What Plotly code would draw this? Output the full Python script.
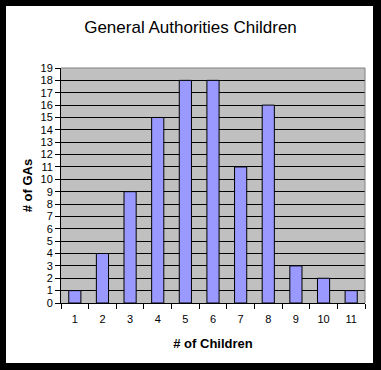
import plotly.graph_objects as go

categories = ["1", "2", "3", "4", "5", "6", "7", "8", "9", "10", "11"]
num_gas = [1, 4, 9, 15, 18, 18, 11, 16, 3, 2, 1]
y_ticks = list(range(0, 20))

W, H = 381, 370
L, R, T, B = 61, 365, 68, 303  # plot area in px


def px_x(p):
    return (p - L) / (R - L)


def px_y(p):
    return (B - p) / (B - T)


fig = go.Figure(
    go.Bar(
        x=categories,
        y=num_gas,
        marker=dict(color="#9999FF", line=dict(color="#000000", width=1)),
        width=0.44,
        hoverinfo="skip",
    )
)

font = "Liberation Sans, Arial, sans-serif"

shapes = []
# gray border on top and right of plot area
shapes.append(dict(type="line", xref="paper", yref="paper", x0=0, x1=1, y0=1, y1=1,
                   line=dict(color="#808080", width=1), layer="above"))
shapes.append(dict(type="line", xref="paper", yref="paper", x0=1, x1=1, y0=0, y1=1,
                   line=dict(color="#808080", width=1), layer="above"))
# black outer frame strips
for (a, b, c, d) in [(0, 6, 0, H), (373, W, 0, H), (0, W, 0, 6), (0, W, 363, H)]:
    shapes.append(dict(type="rect", xref="paper", yref="paper",
                       x0=px_x(a), x1=px_x(b), y0=px_y(d), y1=px_y(c),
                       fillcolor="#000000", line=dict(width=0), layer="above"))

fig.update_layout(
    width=W, height=H,
    margin=dict(l=L, r=W - R, t=T, b=H - B, pad=0),
    paper_bgcolor="#FFFFFF",
    plot_bgcolor="#C0C0C0",
    showlegend=False,
    hovermode=False,
    font=dict(family=font, color="#000000", size=11),
    title=dict(text="General Authorities Children", x=0.5, xanchor="center",
               y=1 - 27 / H, yanchor="middle",
               font=dict(family=font, size=17, color="#000000")),
    xaxis=dict(
        type="category",
        showgrid=False,
        showline=True, linecolor="#000000", linewidth=1,
        ticks="outside", ticklen=5, tickcolor="#000000", tickson="boundaries",
        tickfont=dict(size=11),
        ticklabelstandoff=6,
        title=dict(text="<b># of Children</b>", font=dict(size=13), standoff=14),
    ),
    yaxis=dict(
        range=[0, 19],
        tickvals=y_ticks,
        showgrid=True, gridcolor="#000000", gridwidth=1,
        showline=True, linecolor="#000000", linewidth=1,
        zeroline=False,
        ticks="outside", ticklen=5, tickcolor="#000000",
        tickfont=dict(size=11),
        title=dict(text="<b># of GAs</b>", font=dict(size=13), standoff=4),
    ),
    shapes=shapes,
)

fig.write_html("out.html", config={"displayModeBar": False, "staticPlot": True},
               post_script="document.body.style.margin='0';")
